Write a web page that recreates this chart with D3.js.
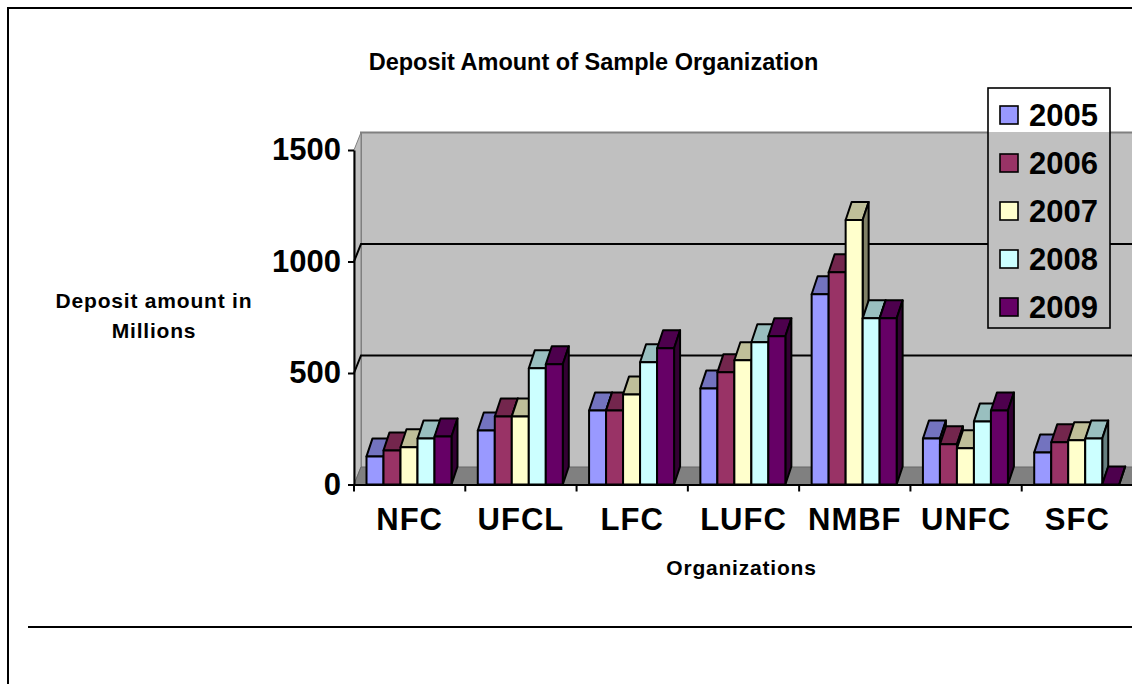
<!DOCTYPE html>
<html lang="en">
<head>
<meta charset="UTF-8">
<title>Deposit Amount of Sample Organization</title>
<script src="https://d3js.org/d3.v7.min.js"></script>
<style>
  body{ margin:0; padding:0; background:#fff; overflow:hidden; }
  text{ font-family:"Liberation Sans", Arial, sans-serif; font-weight:bold; fill:#000; }
  .yAxis text{ font-size:31px; }
  .xAxis text{ font-size:31px; letter-spacing:1px; }
  .yAxis line, .xAxis line{ stroke:#000; stroke-width:2; }
  .yAxis path, .xAxis path{ stroke:#000; stroke-width:2; fill:none; }
  .title{ font-size:23.5px; }
  .axisTitle{ font-size:21px; letter-spacing:0.8px; }
  .legendText{ font-size:31px; }
  .bar{ stroke:#000; stroke-width:2; stroke-linejoin:round; }
</style>
</head>
<body>
<div id="chart"></div>
<script>
let categories = ["NFC","UFCL","LFC","LUFC","NMBF","UNFC","SFC"];
let years = ["2005","2006","2007","2008","2009"];
let colors = ["#9999ff","#993366","#ffffcc","#ccffff","#660066"];
let yTicks = [0,500,1000,1500];

let v2005 = [126,242,332,431,853,206,144];
let v2006 = [153,305,332,503,952,180,189];
let v2007 = [167,305,404,557,1186,162,198];
let v2008 = [206,521,548,638,745,283,206];
let v2009 = [215,539,611,665,745,332,0];
let series = [v2005,v2006,v2007,v2008,v2009];

let svg = d3.select("#chart").append("svg").attr("width",1132).attr("height",684);

// page frame and the rule under the chart
svg.append("path").attr("d","M8,684V8H1132").attr("fill","none").attr("stroke","#000").attr("stroke-width",2);
svg.append("line").attr("x1",28).attr("x2",1132).attr("y1",627).attr("y2",627).attr("stroke","#000").attr("stroke-width",2);

let x = d3.scaleBand().domain(categories).range([354,1133]);
let xs = d3.scaleBand().domain(years).range([12.5,97.5]);
let y = d3.scaleLinear().domain([0,1500]).range([484.5,150]);

// depth of the fake 3d
let dx = 7, dy = -17.5;
let barDx = 6, barDy = -18;
let right = 1140;

let wall = svg.append("g");
// back wall
wall.append("rect").attr("x",354+dx).attr("y",y(1500)+dy).attr("width",right).attr("height",y(0)-y(1500))
  .attr("fill","#c0c0c0");
wall.append("path").attr("d","M"+(354+dx)+","+(y(0)+dy)+"V"+(y(1500)+dy)+"H"+right)
  .attr("fill","none").attr("stroke","#808080").attr("stroke-width",2);
// left side wall
wall.append("path").attr("d","M354,"+y(0)+"V"+y(1500)+"L"+(354+dx)+","+(y(1500)+dy)+"V"+(y(0)+dy)+"Z")
  .attr("fill","#c0c0c0").attr("stroke","#808080").attr("stroke-width",1);
// floor
wall.append("path").attr("d","M354,"+y(0)+"L"+(354+dx)+","+(y(0)+dy)+"H"+right+"V"+y(0)+"Z")
  .attr("fill","#808080").attr("stroke","#666").attr("stroke-width",1);

// gridlines, with the little slanted bit on the side wall
wall.selectAll(".grid").data(yTicks.filter(function(d){ return d>0 && d<1500; })).enter().append("path")
  .attr("class","grid")
  .attr("d",function(d){ return "M354,"+y(d)+"L"+(354+dx)+","+(y(d)+dy)+"H"+right; })
  .attr("fill","none").attr("stroke","#000").attr("stroke-width",2);

svg.append("g").attr("class","yAxis").attr("transform","translate(354,0)")
  .call(d3.axisLeft(y).tickValues(yTicks).tickFormat(d3.format("d")).tickSize(6).tickPadding(7).tickSizeOuter(0));

let xAxis = d3.axisBottom(x).tickSize(0).tickPadding(23);
let xg = svg.append("g").attr("class","xAxis").attr("transform","translate(0,"+y(0)+")").call(xAxis);
// ticks sit between categories, not on them
xg.selectAll(".edge").data(categories.concat(["end"])).enter().append("line").attr("class","edge")
  .attr("x1",function(d,i){ return 354+i*x.bandwidth(); })
  .attr("x2",function(d,i){ return 354+i*x.bandwidth(); })
  .attr("y1",0).attr("y2",7);

let bars = svg.append("g");
categories.forEach(function(c,ci){
  series.forEach(function(vals,si){
    let x0 = x(c)+xs(years[si]), x1 = x0+xs.bandwidth();
    let top = y(vals[ci]), bot = y(0);
    let col = d3.color(colors[si]);
    let g = bars.append("g");
    // top
    g.append("path").attr("class","bar").attr("fill",shade(col,0.75))
      .attr("d","M"+x0+","+top+"L"+(x0+barDx)+","+(top+barDy)+"H"+(x1+barDx)+"L"+x1+","+top+"Z");
    // side
    g.append("path").attr("class","bar").attr("fill",shade(col,0.5))
      .attr("d","M"+x1+","+top+"L"+(x1+barDx)+","+(top+barDy)+"V"+(bot+barDy)+"L"+x1+","+bot+"Z");
    // front
    g.append("rect").attr("class","bar").attr("fill",colors[si])
      .attr("x",x0).attr("y",top).attr("width",x1-x0).attr("height",bot-top);
  });
});

function shade(c,k){ return d3.rgb(c.r*k,c.g*k,c.b*k).formatHex(); }

svg.append("text").attr("class","title").attr("x",593.5).attr("y",69.5).attr("text-anchor","middle")
  .text("Deposit Amount of Sample Organization");
svg.append("text").attr("class","axisTitle").attr("x",741.5).attr("y",575).attr("text-anchor","middle")
  .text("Organizations");
svg.append("text").attr("class","axisTitle").attr("x",154).attr("y",308).attr("text-anchor","middle")
  .text("Deposit amount in");
svg.append("text").attr("class","axisTitle").attr("x",154).attr("y",338).attr("text-anchor","middle")
  .text("Millions");

// legend: box hides the gridlines but keeps the wall colour below its top edge
let legend = svg.append("g");
legend.append("rect").attr("x",988).attr("y",88).attr("width",122).attr("height",240).attr("fill","#fff");
legend.append("rect").attr("x",988).attr("y",132).attr("width",122).attr("height",196).attr("fill","#c0c0c0");
legend.append("rect").attr("x",988).attr("y",88).attr("width",122).attr("height",240)
  .attr("fill","none").attr("stroke","#000").attr("stroke-width",1.6);
let legendY = d3.scalePoint().domain(years).range([115,307]);
years.forEach(function(yr,i){
  legend.append("rect").attr("x",1000).attr("y",legendY(yr)-9).attr("width",18).attr("height",18)
    .attr("fill",colors[i]).attr("stroke","#000").attr("stroke-width",1.6);
  legend.append("text").attr("class","legendText").attr("x",1029).attr("y",legendY(yr)+11).text(yr);
});
</script>
</body>
</html>
